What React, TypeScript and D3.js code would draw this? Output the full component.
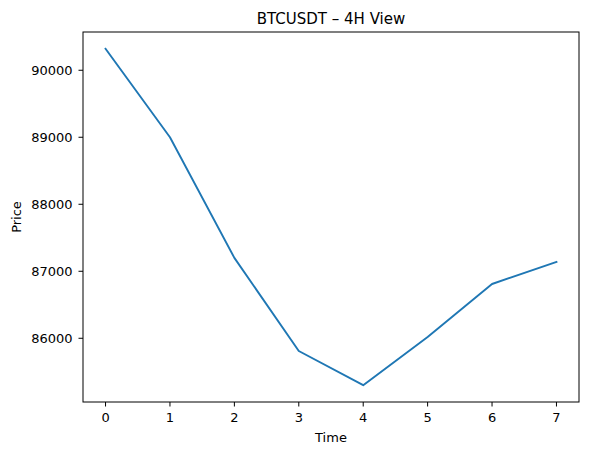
import React from "react";
import * as d3 from "d3";

const times = [0, 1, 2, 3, 4, 5, 6, 7];
const prices = [90320, 89000, 87200, 85810, 85300, 86020, 86810, 87140];
const yTicks = [86000, 87000, 88000, 89000, 90000];
const xTicks = [0, 1, 2, 3, 4, 5, 6, 7];
const title = "BTCUSDT – 4H View";

const W = 589, H = 455;
const L = 83, R = 579, T = 32, B = 402;

export default function App() {
  const xmin = d3.min(times)!, xmax = d3.max(times)!;
  const ymin = d3.min(prices)!, ymax = d3.max(prices)!;
  const xm = (xmax - xmin) * 0.05, ym = (ymax - ymin) * 0.05;
  const x = d3.scaleLinear().domain([xmin - xm, xmax + xm]).range([L, R]);
  const y = d3.scaleLinear().domain([ymin - ym, ymax + ym]).range([B, T]);
  const line = d3.line<number>().x((_, i) => x(times[i])).y((d) => y(d));
  const font = "DejaVu Sans, sans-serif";
  return (
    <svg width={W} height={H} style={{ position: "absolute", left: 0, top: 0 }} fontFamily={font}>
      <rect width={W} height={H} fill="#fff" />
      <path d={line(prices)!} fill="none" stroke="#1f77b4" strokeWidth={1.9} strokeLinejoin="round" strokeLinecap="square" />
      <rect x={L} y={T} width={R - L} height={B - T} fill="none" stroke="#000" strokeWidth={1} />
      {xTicks.map((t) => (
        <g key={t}>
          <line x1={x(t)} x2={x(t)} y1={B} y2={B + 4.5} stroke="#000" strokeWidth={1} />
          <text x={x(t)} y={B + 20} textAnchor="middle" fontSize={13} fill="#000">{t}</text>
        </g>
      ))}
      {yTicks.map((t) => (
        <g key={t}>
          <line x1={L - 4.5} x2={L} y1={y(t)} y2={y(t)} stroke="#000" strokeWidth={1} />
          <text x={L - 10.5} y={y(t)} dy="0.36em" textAnchor="end" fontSize={13} fill="#000">{t}</text>
        </g>
      ))}
      <text x={(L + R) / 2} y={442} textAnchor="middle" fontSize={13} fill="#000">Time</text>
      <text transform={`translate(21,${(T + B) / 2}) rotate(-90)`} textAnchor="middle" fontSize={13} fill="#000">Price</text>
      <text x={(L + R) / 2} y={24} textAnchor="middle" fontSize={15} fill="#000">{title}</text>
    </svg>
  );
}
